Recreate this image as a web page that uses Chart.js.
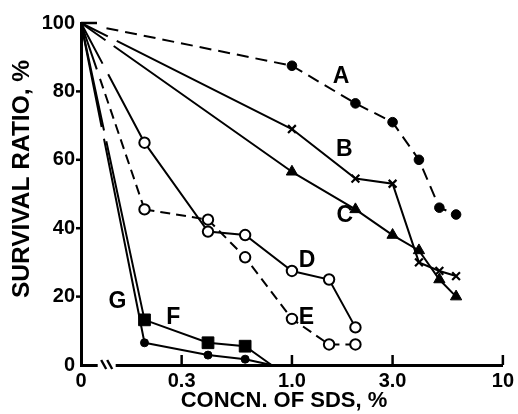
<!DOCTYPE html>
<html><head><meta charset="utf-8">
<script src="https://cdn.jsdelivr.net/npm/chart.js@4/dist/chart.umd.min.js"></script>
<style>html,body{margin:0;padding:0;background:#fff;}canvas{display:block;}</style>
</head><body>
<canvas id="c" width="518" height="414"></canvas>
<script>
// On the broken log axis, the position 0.1 stands for zero concentration.
const ZERO = 0.1;
const xTickValues = [ZERO, 0.3, 1, 3, 10];
const xTickLabels = ['0', '0.3', '1.0', '3.0', '10'];
const yTickValues = [0, 20, 40, 60, 80, 100];

const concABC = [ZERO, 1.0, 2.0, 3.0, 4.0, 5.0, 6.0];
const concDE  = [ZERO, 0.2, 0.4, 0.6, 1.0, 1.5, 2.0];
const concFG  = [ZERO, 0.2, 0.4, 0.6, 0.8];

const survA = [100, 87.5, 76.5, 71, 60, 46, 44];
const survB = [100, 69, 54.5, 53, 30, 27.5, 26];
const survC = [100, 56.5, 45.5, 38, 33.5, 25, 20];
const survD = [100, 65, 39, 38, 27.5, 25, 11];
const survE = [100, 45.5, 42.5, 31.5, 13.5, 6, 6];
const survF = [100, 13.2, 6.5, 5.5, 0];
const survG = [100, 6.5, 2.9, 1.7, 0];

const seriesNames = ['A', 'B', 'C', 'D', 'E', 'F', 'G'];

const FONT = '"Liberation Sans", Arial, sans-serif';

function pts(xs, ys) { return xs.map((x, i) => ({x: x, y: ys[i]})); }
function rep(a, n) { let r = []; for (let i = 0; i < n; i++) r = r.concat(a); return r; }
// dash pattern of the first segment (from the zero point): leaves a break gap
function firstSeg(pattern) { return ctx => ctx.p0DataIndex === 0 ? pattern : undefined; }
function markerRadius(r) {
  return ctx => {
    const v = ctx.raw;
    if (!v) return r;
    return (ctx.dataIndex === 0 || v.y === 0) ? 0 : r;
  };
}

function ds(name, xs, ys, o) {
  return Object.assign({
    label: name,
    data: pts(xs, ys),
    borderColor: '#000',
    backgroundColor: '#000',
    borderWidth: 2,
    pointBorderColor: '#000',
    pointBackgroundColor: '#000',
    pointBorderWidth: 1,
    tension: 0,
    showLine: true,
    clip: 8
  }, o);
}

const datasets = [
  ds(seriesNames[0], concABC, survA, {borderDash: [12, 7],
     segment: {borderDash: firstSeg([0, 26].concat(rep([12, 7], 14)))},
     pointStyle: 'circle', pointRadius: markerRadius(4.8)}),
  ds(seriesNames[1], concABC, survB, {
     segment: {borderDash: firstSeg([30, 10, 4000])},
     pointStyle: 'crossRot', pointRadius: markerRadius(5.5), pointBorderWidth: 2.2}),
  ds(seriesNames[2], concABC, survC, {
     segment: {borderDash: firstSeg([30, 10, 4000])},
     pointStyle: 'triangle', pointRadius: markerRadius(6.5)}),
  ds(seriesNames[3], concDE, survD, {
     segment: {borderDash: firstSeg([46, 12, 4000])},
     pointStyle: 'circle', pointRadius: markerRadius(5.2), pointBackgroundColor: '#fff', pointBorderWidth: 2}),
  ds(seriesNames[4], concDE, survE, {borderDash: [10, 6],
     segment: {borderDash: firstSeg([49, 10].concat(rep([10, 6], 16)))},
     pointStyle: 'circle', pointRadius: markerRadius(5.2), pointBackgroundColor: '#fff', pointBorderWidth: 2}),
  ds(seriesNames[5], concFG, survF, {
     segment: {borderDash: firstSeg([110, 11, 4000])},
     pointStyle: 'rect', pointRadius: markerRadius(8.3)}),
  ds(seriesNames[6], concFG, survG, {
     segment: {borderDash: firstSeg([106, 12, 4000])},
     pointStyle: 'circle', pointRadius: markerRadius(4)})
];

const decor = {
  id: 'decor',
  beforeDraw(chart) {
    const c = chart.ctx;
    c.save(); c.fillStyle = '#fff'; c.fillRect(0, 0, chart.width, chart.height); c.restore();
  },
  afterDraw(chart) {
    const c = chart.ctx, xs = chart.scales.x, ys = chart.scales.y;
    const x0 = chart.chartArea.left, y0 = ys.getPixelForValue(0);
    c.save();
    c.strokeStyle = '#000'; c.lineCap = 'butt';
    // axis break
    const b1 = xs.getPixelForValue(0.12), b2 = xs.getPixelForValue(0.146);
    c.fillStyle = '#fff'; c.fillRect(b1, y0 - 3, b2 - b1, 6);
    const bm = (b1 + b2) / 2;
    c.lineWidth = 2.4;
    [-3, 3].forEach(d => { c.beginPath(); c.moveTo(bm + d - 2.5, y0 - 5); c.lineTo(bm + d + 2.5, y0 + 4); c.stroke(); });
    // x ticks (inward)
    c.lineWidth = 2.5;
    xTickValues.slice(1).forEach(v => {
      const p = xs.getPixelForValue(v);
      c.beginPath(); c.moveTo(p, y0); c.lineTo(p, y0 - 10); c.stroke();
    });
    // y ticks
    yTickValues.forEach(v => {
      if (v === 0) return;
      const p = ys.getPixelForValue(v);
      c.beginPath();
      if (v === 100) { c.moveTo(x0, p); c.lineTo(x0 + 16, p); }
      else { c.moveTo(x0 - 5, p); c.lineTo(x0, p); }
      c.stroke();
    });
    // series labels
    c.fillStyle = '#000';
    c.font = 'bold 23px ' + FONT;
    c.textAlign = 'center'; c.textBaseline = 'middle';
    const spots = {A: [1.71, 84.2], B: [1.77, 62.9], C: [1.78, 43.6], D: [1.18, 30.4],
                   E: [1.17, 13.7], F: [0.274, 13.7], G: [0.149, 18.4]};
    seriesNames.forEach(n => {
      const s = spots[n];
      c.fillText(n, xs.getPixelForValue(s[0]), ys.getPixelForValue(s[1]));
    });
    // axis titles
    c.font = 'bold 22px ' + FONT;
    c.fillText('CONCN. OF SDS, %', 284, 401);
    c.translate(22, 179); c.rotate(-Math.PI / 2);
    c.font = 'bold 24.5px ' + FONT;
    c.fillText('SURVIVAL RATIO, %', 0, 0);
    c.restore();
  }
};

new Chart(document.getElementById('c'), {
  type: 'line',
  data: {datasets: datasets},
  options: {
    responsive: false,
    animation: false,
    events: [],
    layout: {padding: {top: 23, right: 12, left: 0, bottom: 0}},
    plugins: {legend: {display: false}, tooltip: {enabled: false}, title: {display: false}},
    scales: {
      x: {
        type: 'logarithmic', min: 0.1, max: 10, position: 'bottom',
        grid: {display: false, drawTicks: false},
        border: {display: true, color: '#000', width: 3},
        afterBuildTicks: s => { s.ticks = xTickValues.map(v => ({value: v})); },
        afterFit: s => { s.height = 49; },
        ticks: {
          autoSkip: false, maxRotation: 0, padding: 4, color: '#000',
          font: {family: FONT, size: 20, weight: 'bold'},
          callback: (v, i) => xTickLabels[i]
        }
      },
      y: {
        type: 'linear', min: 0, max: 100, position: 'left',
        grid: {display: false, drawTicks: false},
        border: {display: true, color: '#000', width: 3},
        afterBuildTicks: s => { s.ticks = yTickValues.map(v => ({value: v})); },
        afterFit: s => { s.width = 81; },
        ticks: {
          padding: 6, color: '#000',
          font: {family: FONT, size: 20, weight: 'bold'},
          callback: v => String(v)
        }
      }
    }
  },
  plugins: [decor]
});
</script>
</body></html>
